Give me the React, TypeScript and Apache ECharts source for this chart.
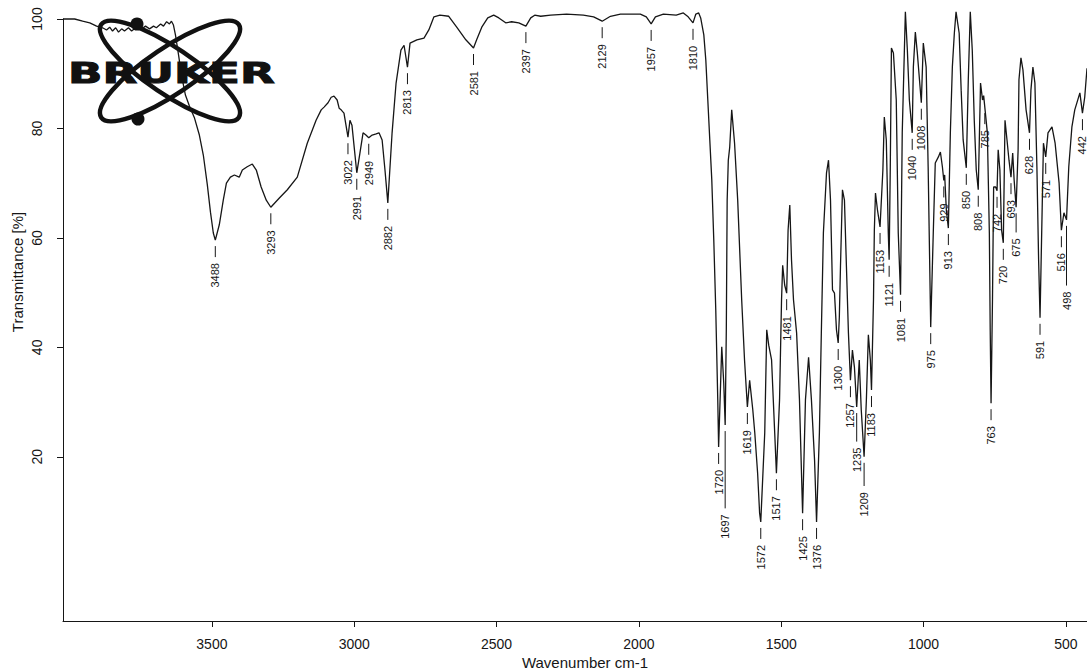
import React, { useEffect, useRef } from "react";
import * as echarts from "echarts";

// IR spectrum (wavenumber in cm-1, transmittance in %)
const specWavenumber = [
  4023, 3982, 3954, 3929, 3905, 3884, 3870, 3859, 3849, 3838, 3828, 3817, 3807, 3793, 3782, 3772,
  3758, 3747, 3733, 3719, 3705, 3695, 3680, 3670, 3659, 3649, 3642, 3635, 3628, 3617, 3607, 3593,
  3579, 3561, 3544, 3530, 3516, 3505, 3495, 3488, 3474, 3460, 3449, 3435, 3421, 3404, 3393, 3376,
  3358, 3344, 3327, 3309, 3293, 3263, 3235, 3200, 3165, 3134, 3116, 3106, 3092, 3081, 3071, 3060,
  3053, 3046, 3036, 3022, 3015, 3008, 2991, 2980, 2969, 2959, 2949, 2937, 2923, 2913, 2902, 2892,
  2882, 2867, 2853, 2836, 2825, 2813, 2804, 2780, 2755, 2738, 2720, 2699, 2668, 2640, 2608, 2581,
  2570, 2552, 2531, 2510, 2492, 2468, 2447, 2422, 2397, 2380, 2366, 2345, 2310, 2254, 2195, 2159,
  2129, 2100, 2065, 1995, 1974, 1957, 1942, 1914, 1869, 1844, 1827, 1810, 1800, 1790, 1783, 1772,
  1765, 1758, 1751, 1744, 1737, 1730, 1723, 1720, 1709, 1702, 1697, 1693, 1690, 1686, 1681, 1674,
  1664, 1653, 1639, 1629, 1619, 1611, 1600, 1593, 1583, 1576, 1572, 1558, 1551, 1544, 1534, 1523,
  1517, 1506, 1499, 1495, 1488, 1481, 1476, 1470, 1464, 1457, 1446, 1436, 1425, 1415, 1404, 1394,
  1383, 1376, 1366, 1359, 1352, 1341, 1334, 1327, 1320, 1313, 1306, 1300, 1296, 1292, 1285, 1278,
  1271, 1264, 1257, 1250, 1243, 1235, 1226, 1219, 1209, 1201, 1194, 1187, 1183, 1176, 1173, 1169,
  1162, 1153, 1143, 1138, 1131, 1124, 1121, 1117, 1113, 1106, 1096, 1089, 1081, 1075, 1064, 1057,
  1050, 1040, 1036, 1029, 1022, 1008, 1001, 991, 984, 975, 966, 959, 948, 941, 934, 929,
  926, 920, 913, 906, 899, 892, 886, 875, 868, 861, 850, 843, 836, 829, 822, 815,
  808, 800, 793, 789, 785, 776, 769, 766, 763, 758, 754, 747, 742, 738, 732, 726,
  720, 714, 707, 700, 693, 687, 682, 675, 668, 665, 658, 651, 640, 628, 623, 616,
  609, 602, 596, 591, 579, 571, 563, 549, 538, 524, 516, 507, 498, 490, 479, 469,
  451, 442, 434, 426,
];
const specTransmittance = [
  100.0, 100.0, 99.6, 99.3, 98.7, 98.4, 98.0, 98.5, 97.8, 98.4, 97.6, 98.2, 97.8, 98.4, 97.8, 98.2,
  98.5, 98.2, 98.7, 98.2, 98.7, 98.4, 99.1, 98.7, 99.5, 99.1, 99.6, 98.9, 97.1, 93.4, 89.8, 86.1,
  84.1, 81.9, 78.8, 75.1, 69.7, 64.7, 60.9, 59.6, 62.4, 66.9, 70.0, 71.1, 71.5, 71.1, 72.4, 73.0,
  73.5, 72.4, 69.3, 66.9, 65.6, 67.3, 68.8, 71.1, 77.3, 81.5, 83.4, 83.9, 84.7, 85.7, 85.9, 85.2,
  83.7, 83.4, 82.8, 78.4, 81.5, 80.6, 71.9, 75.5, 79.2, 78.8, 78.3, 78.8, 79.0, 79.2, 77.9, 72.4,
  66.4, 79.2, 88.3, 94.3, 95.2, 91.2, 95.6, 96.2, 96.5, 98.0, 100.4, 100.7, 100.5, 98.5, 96.2, 94.7,
  96.2, 98.5, 100.2, 100.7, 100.2, 99.3, 99.5, 99.3, 98.7, 100.2, 100.7, 100.5, 100.7, 100.9, 100.7, 100.4,
  99.6, 100.5, 100.9, 100.9, 100.4, 99.1, 100.4, 100.9, 100.7, 101.1, 100.4, 99.3, 100.9, 101.1, 100.2, 97.1,
  92.5, 85.2, 77.9, 70.6, 59.6, 46.8, 30.4, 21.8, 40.1, 33.5, 25.8, 43.2, 66.9, 74.2, 76.6, 83.4,
  77.3, 66.9, 48.7, 37.7, 29.1, 34.0, 28.6, 24.4, 17.0, 9.7, 8.1, 24.4, 43.2, 40.4, 37.7, 24.4,
  17.0, 30.4, 48.7, 55.0, 51.4, 49.9, 61.4, 66.0, 56.0, 48.7, 42.6, 30.4, 9.7, 30.4, 38.2, 30.4,
  19.4, 8.1, 24.4, 43.2, 60.9, 71.9, 74.2, 66.9, 50.5, 49.9, 43.2, 40.8, 45.5, 54.7, 68.8, 66.9,
  54.7, 42.6, 34.0, 39.5, 36.4, 29.1, 37.7, 28.6, 20.0, 30.4, 42.3, 37.7, 32.2, 48.7, 61.4, 68.2,
  65.1, 62.0, 72.4, 82.1, 77.9, 60.9, 56.0, 73.0, 94.7, 93.8, 85.2, 60.9, 49.6, 79.2, 101.3, 94.3,
  85.2, 79.2, 91.2, 97.6, 93.8, 84.7, 95.6, 91.2, 73.0, 43.7, 60.9, 73.7, 74.8, 75.7, 73.0, 70.5,
  71.5, 65.0, 61.8, 79.2, 91.2, 97.4, 101.3, 97.4, 87.0, 77.9, 72.8, 88.9, 101.3, 94.3, 81.5, 72.4,
  68.8, 88.3, 85.2, 86.0, 83.9, 79.2, 60.9, 43.2, 29.8, 48.7, 69.3, 69.3, 68.6, 76.1, 72.4, 61.4,
  59.1, 81.5, 77.9, 74.2, 71.1, 75.5, 70.6, 65.6, 76.1, 88.9, 92.9, 90.7, 83.4, 79.2, 87.0, 91.2,
  88.3, 73.0, 56.0, 45.4, 77.3, 74.8, 79.2, 80.3, 77.3, 70.0, 61.4, 64.6, 63.3, 73.0, 80.3, 83.4,
  86.5, 82.8, 85.7, 91.0,
];

// Picked band minima
const peakWavenumber = [
  3488, 3293, 3022, 2991, 2949, 2882, 2813, 2581, 2397, 2129, 1957, 1810, 1720, 1697, 1619, 1572,
  1517, 1481, 1425, 1376, 1300, 1257, 1235, 1209, 1183, 1153, 1121, 1081, 1040, 1008, 975, 929,
  913, 850, 808, 785, 763, 742, 720, 693, 675, 628, 591, 571, 516, 498, 442,
];
const peakTransmittance = [
  59.6, 65.6, 78.4, 71.9, 78.3, 66.4, 91.2, 94.7, 98.7, 99.6, 99.1, 99.3, 21.8, 25.8, 29.1, 8.1,
  17.0, 49.9, 9.7, 8.1, 40.8, 34.0, 29.1, 20.0, 32.2, 62.0, 56.0, 49.6, 79.2, 84.7, 43.7, 70.5,
  61.8, 72.8, 68.8, 83.9, 29.8, 68.6, 59.1, 71.1, 65.6, 79.2, 45.4, 74.8, 61.4, 63.3, 82.8,
];

const xTickValues = [3500, 3000, 2500, 2000, 1500, 1000, 500];
const yTickValues = [20, 40, 60, 80, 100];

const FONT = '"Liberation Sans", Arial, Helvetica, sans-serif';
const INK = "#161616";

export default function App() {
  const ref = useRef<HTMLDivElement>(null);

  useEffect(() => {
    if (!ref.current) return;
    const chart = echarts.init(ref.current, null, { renderer: "svg" });

    const spectrum = specWavenumber.map((w, i) => [w, specTransmittance[i]]);
    const peaks = peakWavenumber.map((w, i) => [w, peakTransmittance[i]]);

    // Place the vertical peak labels under each minimum; a label that would
    // collide with a neighbour's label is pushed down with a longer leader.
    const layoutLabels = (api: any) => {
      const placed: { x: number; y: number; top: number; bottom: number }[] = [];
      peaks.forEach(([w, t]) => {
        const [x, y] = api.coord([w, t]);
        const len = 11 + 6 + String(w).length * 6.1;
        let top = y + 6;
        let moved = true;
        while (moved) {
          moved = false;
          for (const p of placed) {
            if (Math.abs(p.x - x) < 8 && top < p.bottom + 3 && top + len > p.top - 3) {
              top = p.bottom + 3;
              moved = true;
            }
          }
        }
        placed.push({ x, y, top, bottom: top + len });
      });
      return placed;
    };

    const renderPeakLabel = (params: any, api: any) => {
      const L = layoutLabels(api)[params.dataIndex];
      const w = peakWavenumber[params.dataIndex];
      return {
        type: "group",
        children: [
          {
            type: "line",
            shape: { x1: L.x, y1: L.y + 6, x2: L.x, y2: L.top + 11 },
            style: { stroke: INK, lineWidth: 1 },
          },
          {
            type: "text",
            x: L.x,
            y: L.top + 17,
            rotation: Math.PI / 2,
            style: {
              text: String(w),
              fontSize: 11,
              fontFamily: FONT,
              fill: INK,
              align: "right",
              verticalAlign: "middle",
            },
          },
        ],
      };
    };

    chart.setOption({
      animation: false,
      backgroundColor: "#ffffff",
      grid: { left: 63, right: 0, top: 19, bottom: 51, containLabel: false },
      xAxis: {
        type: "value",
        inverse: true,
        min: 426,
        max: 4023,
        axisLine: { show: true, onZero: false, lineStyle: { color: INK, width: 1 } },
        axisTick: { show: true, length: 6, customValues: xTickValues, lineStyle: { color: INK } },
        axisLabel: {
          customValues: xTickValues,
          margin: 16,
          fontSize: 14,
          fontFamily: FONT,
          color: INK,
          formatter: (v: number) => String(v),
        },
        splitLine: { show: false },
      },
      yAxis: {
        type: "value",
        min: -10,
        max: 100,
        axisLine: { show: true, onZero: false, lineStyle: { color: INK, width: 1 } },
        axisTick: { show: true, length: 6, customValues: yTickValues, lineStyle: { color: INK } },
        axisLabel: {
          customValues: yTickValues,
          rotate: 90,
          margin: 19,
          fontSize: 14,
          fontFamily: FONT,
          color: INK,
          hideOverlap: false,
          formatter: (v: number) => String(v),
        },
        splitLine: { show: false },
      },
      series: [
        {
          type: "line",
          data: spectrum,
          symbol: "none",
          showSymbol: false,
          clip: false,
          silent: true,
          lineStyle: { color: INK, width: 1.3 },
        },
        {
          type: "custom",
          data: peaks,
          renderItem: renderPeakLabel,
          clip: false,
          silent: true,
          z: 3,
        },
      ],
      graphic: [
        {
          type: "text",
          x: 585,
          y: 655,
          style: {
            text: "Wavenumber cm-1",
            fontSize: 15,
            fontFamily: FONT,
            fill: INK,
            align: "center",
            verticalAlign: "top",
          },
        },
        {
          type: "text",
          x: 17,
          y: 272,
          rotation: Math.PI / 2,
          style: {
            text: "Transmittance [%]",
            fontSize: 15,
            fontFamily: FONT,
            fill: INK,
            align: "center",
            verticalAlign: "middle",
          },
        },
        // Bruker logo: two crossed orbits, two electrons, word mark
        {
          type: "group",
          x: 170,
          y: 71,
          z: 10,
          children: [
            {
              type: "ellipse",
              shape: { cx: 0, cy: 0, rx: 83, ry: 23 },
              rotation: -0.593,
              style: { fill: "none", stroke: "#111", lineWidth: 4.5 },
            },
            {
              type: "ellipse",
              shape: { cx: 0, cy: 0, rx: 83, ry: 23 },
              rotation: 0.593,
              style: { fill: "none", stroke: "#111", lineWidth: 4.5 },
            },
          ],
        },
        { type: "circle", z: 11, shape: { cx: 137, cy: 24, r: 6.5 }, style: { fill: "#111" } },
        { type: "circle", z: 11, shape: { cx: 138, cy: 119, r: 6.5 }, style: { fill: "#111" } },
        {
          type: "text",
          z: 12,
          x: 68,
          y: 73,
          scaleX: 1.56,
          style: {
            text: "BRUKER",
            fontSize: 29,
            fontWeight: "bold",
            fontFamily: '"DejaVu Sans", sans-serif',
            fill: "#111",
            stroke: "#111",
            lineWidth: 1,
            align: "left",
            verticalAlign: "middle",
          },
        },
      ],
    });

    return () => chart.dispose();
  }, []);

  return (
    <div
      ref={ref}
      style={{ position: "absolute", left: 0, top: 0, width: 1087, height: 672 }}
    />
  );
}
